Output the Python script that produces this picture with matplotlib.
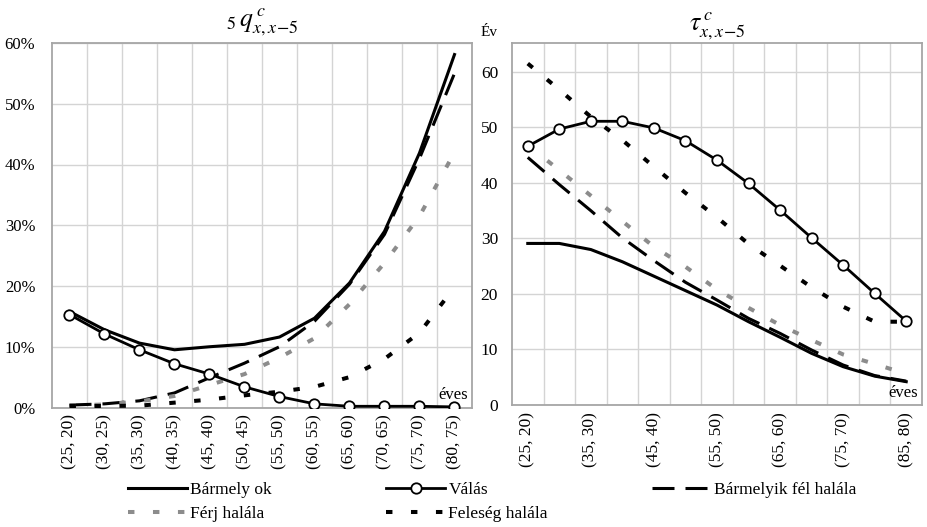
import matplotlib
matplotlib.use('Agg')
import matplotlib.pyplot as plt
from matplotlib.lines import Line2D
from matplotlib.ticker import FuncFormatter, MultipleLocator

plt.rcParams['font.family'] = ['Liberation Serif', 'DejaVu Serif']
plt.rcParams['mathtext.fontset'] = 'stix'

# ---------------- data ----------------
left_cats = ['(25, 20)', '(30, 25)', '(35, 30)', '(40, 35)', '(45, 40)', '(50, 45)',
             '(55, 50)', '(60, 55)', '(65, 60)', '(70, 65)', '(75, 70)', '(80, 75)']
# percentages
q_barmely = [15.8, 12.8, 10.6, 9.5, 10.0, 10.4, 11.6, 14.7, 20.5, 29.0, 41.9, 58.1]
q_valas = [15.3, 12.1, 9.5, 7.2, 5.5, 3.4, 1.8, 0.6, 0.2, 0.2, 0.2, 0.1]
q_barmelyik_fel = [0.4, 0.6, 1.1, 2.4, 4.9, 7.3, 10.0, 14.2, 20.3, 28.5, 41.0, 55.0]
q_ferj = [0.3, 0.5, 1.0, 1.9, 3.7, 5.5, 8.2, 11.4, 17.0, 23.8, 31.5, 42.0]
q_feleseg = [0.25, 0.25, 0.3, 0.8, 1.3, 2.0, 2.6, 3.4, 5.0, 8.0, 12.3, 19.8]

right_cats = ['(25, 20)', '(30, 25)', '(35, 30)', '(40, 35)', '(45, 40)', '(50, 45)',
              '(55, 50)', '(60, 55)', '(65, 60)', '(70, 65)', '(75, 70)', '(80, 75)',
              '(85, 80)']
t_barmely = [29.1, 29.1, 28.0, 25.8, 23.2, 20.6, 18.0, 15.0, 12.2, 9.3, 6.9, 5.2, 4.2]
t_valas = [46.6, 49.7, 51.1, 51.1, 49.9, 47.6, 44.1, 39.9, 35.1, 30.1, 25.2, 20.1, 15.1]
t_barmelyik_fel = [44.6, 39.7, 35.0, 30.1, 26.0, 22.1, 18.9, 15.6, 12.9, 9.9, 7.2, 5.3, 4.3]
t_ferj = [46.8, 42.3, 37.7, 33.1, 28.5, 24.9, 20.8, 17.5, 14.4, 11.7, 9.1, 7.4, 5.6]
t_feleseg = [61.5, 56.8, 51.9, 47.7, 42.9, 38.2, 33.8, 29.0, 25.1, 21.2, 17.7, 15.0, 15.0]

labels = ['Bármely ok', 'Válás', 'Bármelyik fél halála', 'Férj halála', 'Feleség halála']

# ---------------- styles ----------------
GRID = '#d4d4d4'
SPINE = '#a6a6a6'
GREY = '#8c8c8c'
LW = 2.2
styles = [
    dict(color='black', lw=LW, ls='-', zorder=3),
    dict(color='black', lw=2.0, ls='-', marker='o', markersize=7.5, markerfacecolor='white',
         markeredgecolor='black', markeredgewidth=1.3, zorder=6),
    dict(color='black', lw=LW, dashes=(7.2, 3.6), zorder=4),
    dict(color=GREY, lw=2.9, dashes=(1.6, 4.6), zorder=4),
    dict(color='black', lw=2.9, dashes=(1.6, 4.6), zorder=5),
]

fig = plt.figure(figsize=(9.28, 5.27), dpi=100)
W, H = 928, 527
ax1 = fig.add_axes([52 / W, 1 - 407.5 / H, 420 / W, 364.5 / H])
ax2 = fig.add_axes([512 / W, 1 - 405 / H, 410 / W, 362 / H])


def style_axes(ax, n):
    ax.set_xlim(-0.5, n - 0.5)
    ax.set_xticks([i + 0.5 for i in range(n - 1)], minor=True)
    ax.grid(True, which='minor', axis='x', color=GRID, lw=1.0)
    ax.grid(True, which='major', axis='y', color=GRID, lw=1.0)
    ax.set_axisbelow(True)
    for s in ax.spines.values():
        s.set_color(SPINE)
        s.set_linewidth(1.3)
    ax.tick_params(which='both', length=0)


# left chart
x1 = list(range(len(left_cats)))
for ys, st in zip([q_barmely, q_valas, q_barmelyik_fel, q_ferj, q_feleseg], styles):
    ax1.plot(x1, ys, **st)
style_axes(ax1, len(left_cats))
ax1.set_ylim(0, 60)
ax1.yaxis.set_major_locator(MultipleLocator(10))
ax1.yaxis.set_major_formatter(FuncFormatter(lambda v, p: f'{v:.0f}%'))
ax1.set_xticks(x1)
ax1.set_xticklabels(left_cats, rotation=90, fontsize=12.5)
ax1.tick_params(axis='y', labelsize=12, pad=12)
ax1.tick_params(axis='x', pad=5)
ax1.set_title(r'${}_{5}\,q^{\,c}_{x,x\!-\!5}$', fontsize=18.5, pad=12)
ax1.text(0.99, 0.012, 'éves', transform=ax1.transAxes, ha='right', va='bottom', fontsize=12)

# right chart
x2 = list(range(len(right_cats)))
for ys, st in zip([t_barmely, t_valas, t_barmelyik_fel, t_ferj, t_feleseg], styles):
    ax2.plot(x2, ys, **st)
style_axes(ax2, len(right_cats))
ax2.set_ylim(0, 65.2)
ax2.yaxis.set_major_locator(MultipleLocator(10))
ax2.set_xticks(x2[::2])
ax2.set_xticklabels(right_cats[::2], rotation=90, fontsize=12.5)
ax2.tick_params(axis='y', labelsize=12.5, pad=10)
ax2.tick_params(axis='x', pad=5)
ax2.set_title(r'$\tau^{\,c}_{x,x\!-\!5}$', fontsize=18.5, pad=9)
ax2.text(0.99, 0.012, 'éves', transform=ax2.transAxes, ha='right', va='bottom', fontsize=12)
fig.text(481 / W, 1 - 32 / H, 'Év', fontsize=11, ha='left', va='center')

# legend (three columns placed like the original)
handles = [Line2D([], [], **{k: v for k, v in st.items() if k != 'zorder'}) for st in styles]
cols = [([0, 3], 128), ([1, 4], 386), ([2], 652)]
for idx, xpx in cols:
    leg = fig.legend([handles[i] for i in idx], [labels[i] for i in idx],
                     loc='upper left', bbox_to_anchor=(xpx / W, 1 - 482 / H),
                     frameon=False, fontsize=12.5, handlelength=3.4, handletextpad=0.2,
                     borderpad=0, borderaxespad=0, labelspacing=0.45)

fig.savefig('out.png', dpi=100)
